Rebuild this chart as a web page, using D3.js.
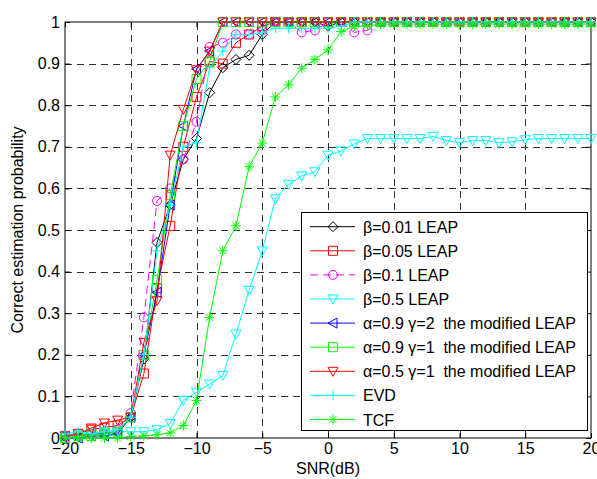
<!DOCTYPE html>
<html>
<head>
<meta charset="utf-8">
<script src="https://cdn.jsdelivr.net/npm/d3@7/dist/d3.min.js"></script>
<style>
  body { margin: 0; background: #fff; }
  svg text { font-family: "Liberation Sans", Arial, sans-serif; }
</style>
</head>
<body>
<div id="chart"></div>
<script>
// SNR values (dB) on the x axis
const snr = [-20,-19,-18,-17,-16,-15,-14,-13,-12,-11,-10,-9,-8,-7,-6,-5,-4,-3,-2,-1,
             0,1,2,3,4,5,6,7,8,9,10,11,12,13,14,15,16,17,18,19,20];

// correct estimation probability for each method
const beta001 = [0.005,0.005,0.01,0.01,0.015,0.05,0.19,0.47,0.56,0.67,0.72,0.83,0.89,0.91,0.92,0.97,1,1,1,1,
                 0.99,1,1,1,1,1,1,1,1,1,1,1,1,1,1,1,1,1,1,1,1];
const beta005 = [0.005,0.01,0.02,0.025,0.03,0.05,0.155,0.36,0.51,0.70,0.82,0.905,0.90,0.95,0.97,0.99,1,1,1,1,
                 1,1,1,1,1,1,1,1,1,1,1,1,1,1,1,1,1,1,1,1,1];
const beta01  = [0.005,0.005,0.01,0.01,0.02,0.06,0.29,0.57,0.60,0.67,0.76,0.94,0.95,0.97,0.97,0.98,1,1,0.975,0.98,
                 1,1,0.975,0.98,1,1,1,1,1,1,1,1,1,1,1,1,1,1,1,1,1];
const beta05  = [0.005,0.01,0.01,0.015,0.015,0.015,0.015,0.02,0.035,0.09,0.11,0.13,0.15,0.25,0.355,0.45,0.575,0.61,0.63,0.64,
                 0.68,0.69,0.707,0.72,0.72,0.72,0.72,0.72,0.725,0.715,0.71,0.715,0.715,0.71,0.712,0.717,0.72,0.72,0.72,0.72,0.72];
const alpha09g2 = [0,0,0.005,0.005,0.01,0.05,0.2,0.35,0.56,0.75,0.887,0.93,1,1,1,1,1,1,1,1,
                   1,1,1,1,1,1,1,1,1,1,1,1,1,1,1,1,1,1,1,1,1];
const alpha09g1 = [0,0.005,0.005,0.01,0.015,0.05,0.2,0.38,0.584,0.75,0.863,0.905,1,1,1,1,1,1,1,1,
                   1,1,1,1,1,1,1,1,1,1,1,1,1,1,1,1,1,1,1,1,1];
const alpha05g1 = [0.005,0.01,0.024,0.036,0.043,0.05,0.23,0.33,0.68,0.79,0.885,0.93,1,1,1,1,1,1,1,1,
                   1,1,1,1,1,1,1,1,1,1,1,1,1,1,1,1,1,1,1,1,1];
const evd = [0.01,0.015,0.01,0.015,0.02,0.05,0.2,0.45,0.56,0.70,0.71,0.89,0.93,0.97,0.97,0.975,0.985,0.985,0.985,0.985,
             0.985,0.99,1,1,1,1,1,1,1,1,1,1,1,1,1,1,1,1,1,1,1];
const tcf = [0,0,0,0,0,0.004,0.005,0.008,0.012,0.03,0.09,0.29,0.45,0.51,0.652,0.709,0.82,0.849,0.889,0.91,
             0.933,0.977,0.99,0.99,0.995,0.995,0.995,0.995,0.995,0.995,0.995,0.995,0.995,0.995,0.995,0.995,0.995,0.995,0.995,0.995,0.995];

const seriesNames = ['β=0.01 LEAP', 'β=0.05 LEAP', 'β=0.1 LEAP', 'β=0.5 LEAP',
                     'α=0.9 γ=2  the modified LEAP', 'α=0.9 γ=1  the modified LEAP',
                     'α=0.5 γ=1  the modified LEAP', 'EVD', 'TCF'];

const xTicks = [-20,-15,-10,-5,0,5,10,15,20];
const yTicks = [0,0.1,0.2,0.3,0.4,0.5,0.6,0.7,0.8,0.9,1];
const yTickLabels = ['0','0.1','0.2','0.3','0.4','0.5','0.6','0.7','0.8','0.9','1'];

document.addEventListener('DOMContentLoaded', function() {
    const width = 597, height = 479;
    const margin = {left: 65, right: 6, top: 22, bottom: 41};
    const fontSize = 16;

    const svg = d3.select('#chart')
        .append('svg')
        .attr('width', width)
        .attr('height', height);

    const x = d3.scaleLinear().domain([-20, 20]).range([margin.left, width - margin.right]);
    const y = d3.scaleLinear().domain([0, 1]).range([height - margin.bottom, margin.top]);

    // marker shapes, drawn as outlines like matlab
    const markers = {
        diamond: 'M0,-5L5,0L0,5L-5,0Z',
        square: 'M-4.5,-4.5H4.5V4.5H-4.5Z',
        circle: d3.arc()({innerRadius: 0, outerRadius: 4.5, startAngle: 0, endAngle: 2 * Math.PI}),
        down: 'M-5,-4L5,-4L0,5Z',
        left: 'M-5,0L4,-5L4,5Z',
        plus: 'M-5,0H5M0,-5V5',
        star: 'M-5,0H5M0,-5V5M-3.6,-3.6L3.6,3.6M-3.6,3.6L3.6,-3.6'
    };

    const series = [
        {values: beta001, color: '#000000', marker: 'diamond'},
        {values: beta005, color: '#ff0000', marker: 'square'},
        {values: beta01, color: '#ff00ff', marker: 'circle', dash: '8,5'},
        {values: beta05, color: '#00ffff', marker: 'down'},
        {values: alpha09g2, color: '#0000ff', marker: 'left'},
        {values: alpha09g1, color: '#00ff00', marker: 'square'},
        {values: alpha05g1, color: '#ff0000', marker: 'down'},
        {values: evd, color: '#00ffff', marker: 'plus'},
        {values: tcf, color: '#00ff00', marker: 'star'}
    ];
    series.forEach((s, i) => s.name = seriesNames[i]);

    // dashed grid
    const grid = svg.append('g').attr('stroke', '#000').attr('stroke-width', 1)
        .attr('stroke-dasharray', '7,5').attr('opacity', 0.8);
    grid.selectAll('.gx').data(xTicks.slice(1, -1)).enter().append('line')
        .attr('x1', d => Math.round(x(d)) + 0.5).attr('x2', d => Math.round(x(d)) + 0.5)
        .attr('y1', y(0)).attr('y2', y(1));
    grid.selectAll('.gy').data(yTicks.slice(1, -1)).enter().append('line')
        .attr('y1', d => Math.round(y(d)) + 0.5).attr('y2', d => Math.round(y(d)) + 0.5)
        .attr('x1', x(-20)).attr('x2', x(20));

    // axes with inward ticks on all four sides
    const axisFont = g => g.selectAll('text').attr('font-size', fontSize).attr('fill', '#000')
        .style('font-family', '"Liberation Sans", Arial, sans-serif');
    svg.append('g')
        .attr('transform', `translate(0,${y(0)})`)
        .call(d3.axisBottom(x).tickValues(xTicks).tickSizeInner(-5).tickSizeOuter(0).tickPadding(5))
        .call(g => g.select('.domain').remove())
        .call(axisFont);
    svg.append('g')
        .attr('transform', `translate(${x(-20)},0)`)
        .call(d3.axisLeft(y).tickValues(yTicks).tickFormat((d, i) => yTickLabels[i])
            .tickSizeInner(-5).tickSizeOuter(0).tickPadding(5))
        .call(g => g.select('.domain').remove())
        .call(axisFont);
    svg.append('g')
        .attr('transform', `translate(0,${y(1)})`)
        .call(d3.axisTop(x).tickValues(xTicks).tickSizeInner(-5).tickSizeOuter(0).tickFormat(''))
        .call(g => g.select('.domain').remove());
    svg.append('g')
        .attr('transform', `translate(${x(20)},0)`)
        .call(d3.axisRight(y).tickValues(yTicks).tickSizeInner(-5).tickSizeOuter(0).tickFormat(''))
        .call(g => g.select('.domain').remove());

    svg.append('rect')
        .attr('x', x(-20)).attr('y', y(1))
        .attr('width', x(20) - x(-20)).attr('height', y(0) - y(1))
        .attr('fill', 'none').attr('stroke', '#000').attr('stroke-width', 1);

    // curves
    const line = d3.line().x((d, i) => x(snr[i])).y(d => y(d));
    series.forEach(s => {
        const g = svg.append('g');
        g.append('path')
            .attr('d', line(s.values))
            .attr('fill', 'none')
            .attr('stroke', s.color)
            .attr('stroke-width', 1)
            .attr('stroke-dasharray', s.dash || null);
        g.selectAll('path.m').data(s.values).enter().append('path')
            .attr('class', 'm')
            .attr('d', markers[s.marker])
            .attr('transform', (d, i) => `translate(${x(snr[i])},${y(d)})`)
            .attr('fill', 'none')
            .attr('stroke', s.color)
            .attr('stroke-width', 1);
    });

    // axis labels
    svg.append('text')
        .attr('x', x(0)).attr('y', 474)
        .attr('text-anchor', 'middle')
        .attr('font-size', fontSize)
        .text('SNR(dB)');
    svg.append('text')
        .attr('transform', `translate(23,${(y(0) + y(1)) / 2}) rotate(-90)`)
        .attr('text-anchor', 'middle')
        .attr('font-size', fontSize)
        .text('Correct estimation probability');

    // legend
    const legend = svg.append('g');
    legend.append('rect')
        .attr('x', 301.5).attr('y', 212.5)
        .attr('width', 286).attr('height', 218)
        .attr('fill', '#fff').attr('stroke', '#000').attr('stroke-width', 1);
    const rows = legend.selectAll('g.row').data(series).enter().append('g')
        .attr('transform', (d, i) => `translate(0,${226.7 + i * 24.1})`);
    rows.append('line')
        .attr('x1', 310).attr('x2', 355)
        .attr('stroke', d => d.color)
        .attr('stroke-width', 1)
        .attr('stroke-dasharray', d => d.dash || null);
    rows.append('path')
        .attr('d', d => markers[d.marker])
        .attr('transform', 'translate(333,0)')
        .attr('fill', 'none')
        .attr('stroke', d => d.color);
    rows.append('text')
        .attr('x', 363).attr('y', 6)
        .attr('font-size', fontSize)
        .style('white-space', 'pre')
        .text(d => d.name);
});
</script>
</body>
</html>
